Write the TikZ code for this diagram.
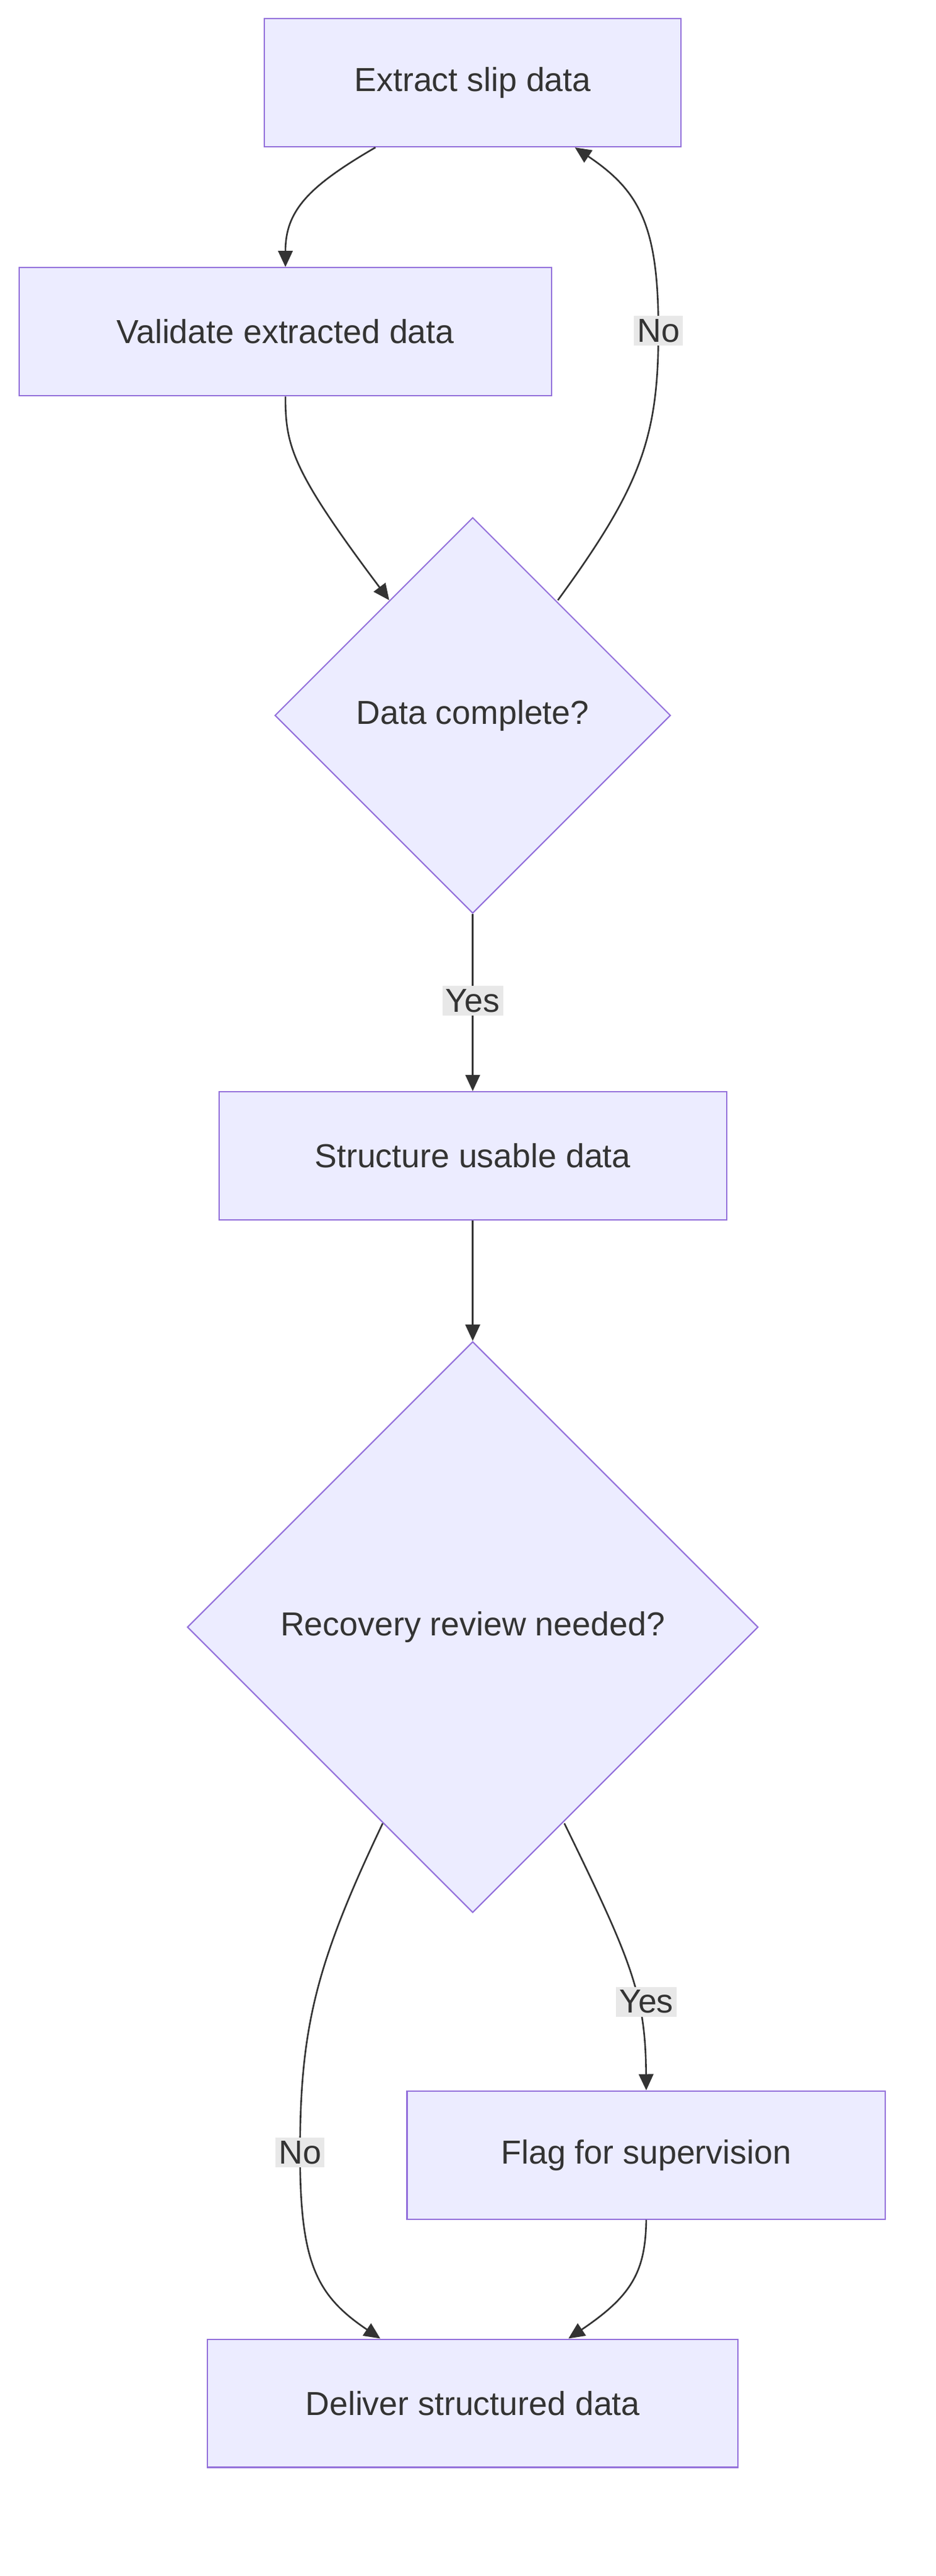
\documentclass[tikz,border=0pt]{standalone}
\usepackage{fontspec}
\setmainfont{Liberation Sans}
\usetikzlibrary{shapes.geometric,arrows.meta}
\definecolor{nfill}{HTML}{ECECFF}
\definecolor{nline}{HTML}{9370DB}
\definecolor{eline}{HTML}{333333}
\definecolor{lbg}{HTML}{E8E8E8}
\begin{document}
\begin{tikzpicture}[x=1pt,y=-1pt,
 box/.style={draw=nline,fill=nfill,line width=0.8pt,inner sep=0pt,font=\fontsize{20.5}{24}\selectfont,text=eline},
 dia/.style={draw=nline,fill=nfill,line width=0.8pt,diamond,inner sep=0pt,font=\fontsize{20.5}{24}\selectfont,text=eline},
 edge/.style={draw=eline,line width=1pt,-{Triangle[length=10pt,width=9pt]}},
 lab/.style={fill=lbg,font=\fontsize{20.5}{24}\selectfont,text=eline,inner sep=2pt}]
\useasboundingbox (0,0) rectangle (577,1588);
\node[box,minimum width=257,minimum height=79] (e) at (291.5,51) {Extract slip data};
\node[box,minimum width=328,minimum height=79] (v) at (176,204.5) {Validate extracted data};
\node[dia,minimum width=244,minimum height=244] (d) at (291.5,441) {Data complete?};
\node[box,minimum width=313,minimum height=79] (s) at (291.5,712.5) {Structure usable data};
\node[dia,minimum width=352,minimum height=352] (r) at (291.5,1003) {Recovery review needed?};
\node[box,minimum width=295,minimum height=79] (f) at (398.5,1328.5) {Flag for supervision};
\node[box,minimum width=327,minimum height=79] (o) at (291.5,1481.5) {Deliver structured data};
\draw[edge] ([xshift=-60pt]e.south) .. controls (190,115) and (176,130) .. (v.north);
\draw[edge] (v.south) .. controls (176,275) and (180,290) .. (240,370);
\draw[edge] (344,370) .. controls (395,300) and (406,270) .. (406,204) .. controls (406,140) and (395,118) .. ([xshift=63pt]e.south);
\node[lab] (ln) at (406,204) {No};
\draw[edge] (d.south) -- (s.north);
\node[lab] (ly) at (291.5,617) {Yes};
\draw[edge] (s.south) -- (r.north);
\draw[edge] (236,1124) .. controls (195,1210) and (185,1250) .. (185,1327) .. controls (185,1395) and (195,1415) .. ([xshift=-57pt]o.north);
\node[lab] (ln2) at (185,1327) {No};
\draw[edge] (348,1124) .. controls (390,1210) and (398,1230) .. (f.north);
\node[lab] (ly2) at (398.5,1234) {Yes};
\draw[edge] (f.south) .. controls (398,1400) and (390,1415) .. ([xshift=59pt]o.north);
\end{tikzpicture}
\end{document}
